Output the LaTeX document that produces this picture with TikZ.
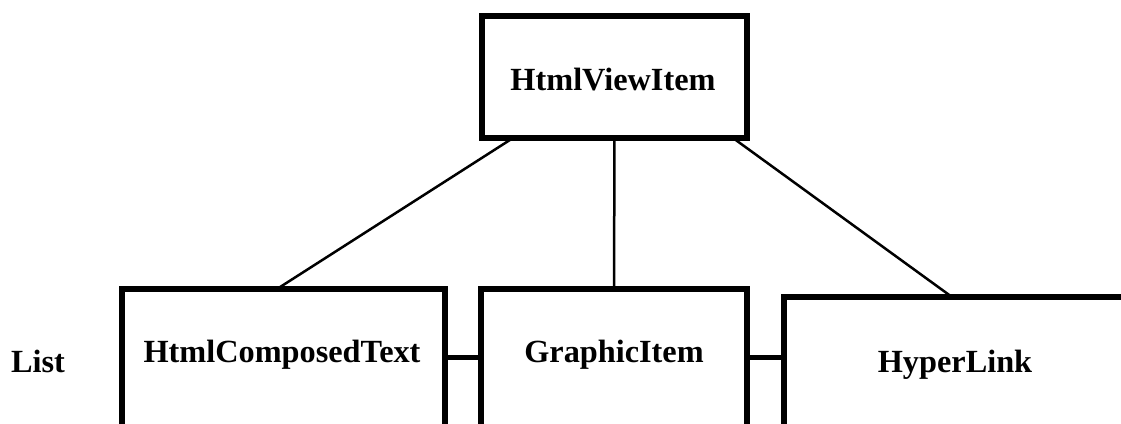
\documentclass[tikz,border=0pt]{standalone}
\usepackage{fontspec}
\setmainfont{Liberation Serif}
\usetikzlibrary{calc}
\begin{document}
\begin{tikzpicture}[x=1pt,y=-1pt,
  classbox/.style={draw, line width=5.5pt, rectangle, inner sep=0pt, outer sep=0pt, anchor=north west},
  title/.style={font=\fontsize{32.3}{32.3}\selectfont\bfseries, anchor=base, inner sep=0pt},
  link/.style={line width=2.5pt},
  chain/.style={line width=5pt}]
\useasboundingbox (0,0) rectangle (1121,423);
\clip (0,0) rectangle (1121,423);
% class boxes (the lower row runs past the bottom and right edges)
\node[classbox, minimum width=265pt, minimum height=122pt] (view) at (482,16) {};
\node[classbox, minimum width=323pt, minimum height=250pt] (composed) at (122,289) {};
\node[classbox, minimum width=266pt, minimum height=250pt] (graphic) at (481,289) {};
\node[classbox, minimum width=420pt, minimum height=250pt] (hyper) at (784,297) {};
% class names
\node[title] (viewlabel) at (613,90) {HtmlViewItem};
\node[title] (composedlabel) at (282,362) {HtmlComposedText};
\node[title] (graphiclabel) at (614,362) {GraphicItem};
\node[title] (hyperlabel) at (955,372) {HyperLink};
\node[title] (listlabel) at (38,372) {List};
% inheritance links
\draw[link] ($(view.south west)+(31,0)$) -- ($(composed.north west)+(155,0)$);
\draw[link] (view.south) -- (graphic.north);
\draw[link] ($(view.south east)+(-14,0)$) -- ($(hyper.north west)+(168,0)$);
% list chain
\draw[chain] ($(composed.north east)+(0,68)$) -- ($(graphic.north west)+(0,68)$);
\draw[chain] ($(graphic.north east)+(0,68)$) -- ($(hyper.north west)+(0,60)$);
\end{tikzpicture}
\end{document}
